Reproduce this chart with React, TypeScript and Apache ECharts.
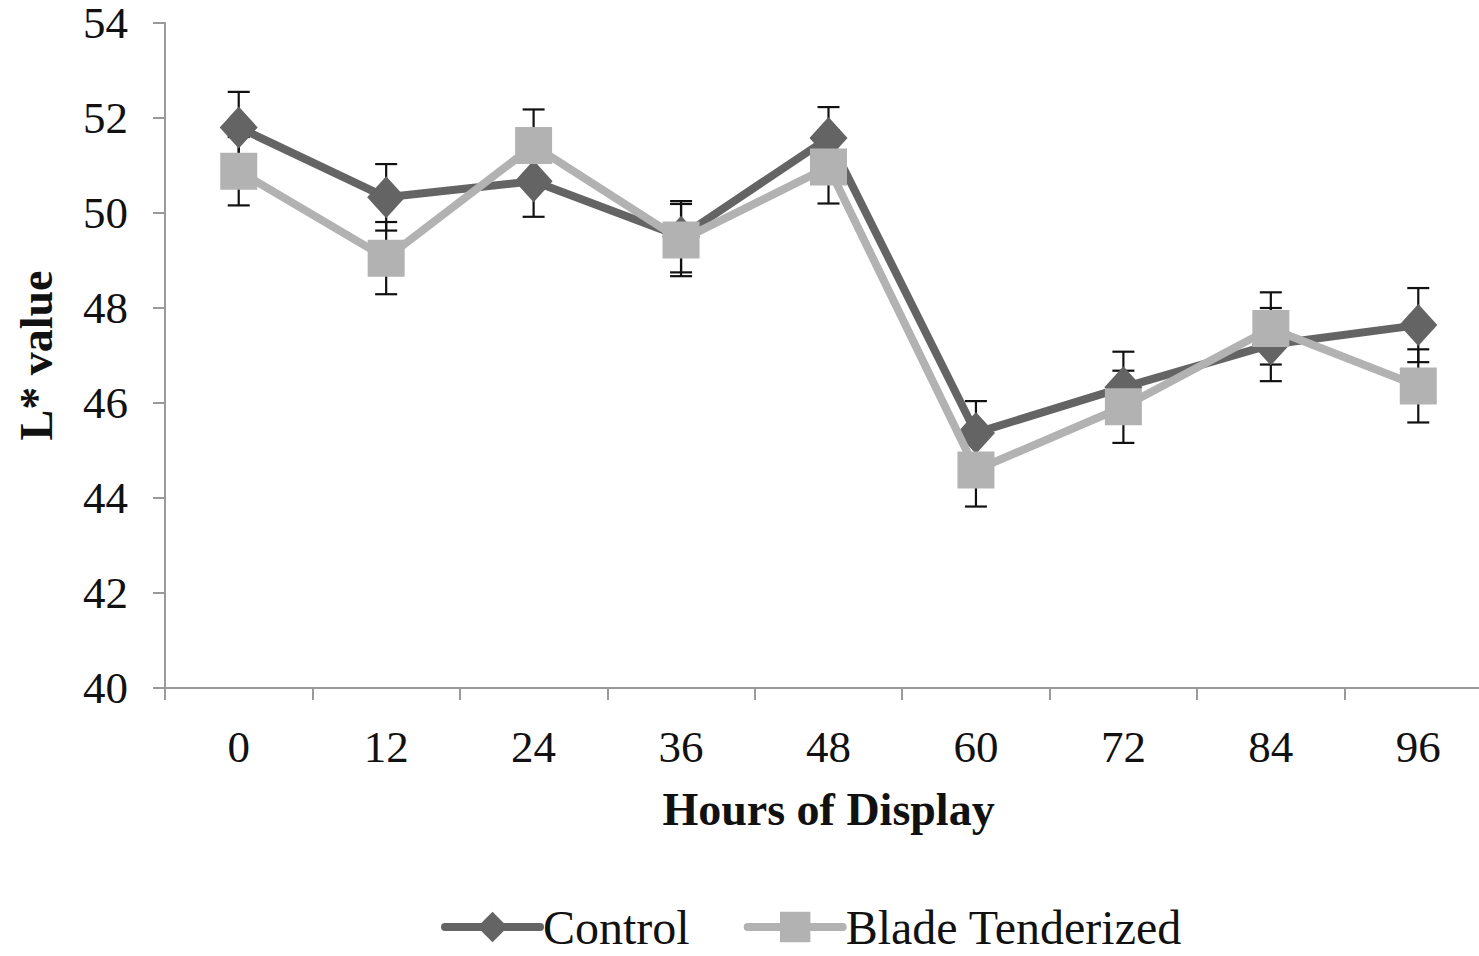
import React, { useEffect, useRef } from "react";
import * as echarts from "echarts";

// Hours of retail display
const hours = ["0", "12", "24", "36", "48", "60", "72", "84", "96"];

// Mean L* values and their standard errors
const controlMean = [51.8, 50.33, 50.67, 49.5, 51.58, 45.37, 46.33, 47.23, 47.64];
const controlErr = [0.75, 0.7, 0.75, 0.75, 0.65, 0.67, 0.75, 0.77, 0.78];
const bladeMean = [50.88, 49.05, 51.42, 49.43, 50.97, 44.59, 45.92, 47.57, 46.36];
const bladeErr = [0.72, 0.76, 0.76, 0.76, 0.77, 0.77, 0.76, 0.76, 0.77];

const yTicks = { min: 40, max: 54, interval: 2 };

const FONT = '"Liberation Serif", "Times New Roman", serif';
const DARK = "#646464";
const LIGHT = "#b2b2b2";

function errorBarSeries(name: string, mean: number[], err: number[]) {
  const data = mean.map((m, i) => [i, m - err[i], m + err[i]]);
  return {
    type: "custom",
    name: name + " error",
    z: 1,
    silent: true,
    data,
    encode: { x: 0, y: [1, 2] },
    renderItem: (params: any, api: any) => {
      const x = api.value(0);
      const lo = api.coord([x, api.value(1)]);
      const hi = api.coord([x, api.value(2)]);
      const half = 11;
      const style = { stroke: "#111", lineWidth: 2.2 };
      return {
        type: "group",
        children: [
          { type: "line", shape: { x1: lo[0], y1: lo[1], x2: hi[0], y2: hi[1] }, style },
          { type: "line", shape: { x1: lo[0] - half, y1: lo[1], x2: lo[0] + half, y2: lo[1] }, style },
          { type: "line", shape: { x1: hi[0] - half, y1: hi[1], x2: hi[0] + half, y2: hi[1] }, style },
        ],
      };
    },
  };
}

export default function App() {
  const ref = useRef<HTMLDivElement>(null);

  useEffect(() => {
    if (!ref.current) return;
    const chart = echarts.init(ref.current, null, { renderer: "svg" });
    chart.setOption({
      animation: false,
      backgroundColor: "#ffffff",
      // the plot area runs a little past the right edge of the visible frame
      grid: { left: 165, right: 0, top: 23, bottom: 268, containLabel: false },
      legend: {
        bottom: 0,
        left: 436,
        itemWidth: 95,
        itemHeight: 38,
        itemGap: 54,
        data: ["Control", "Blade Tenderized"],
        lineStyle: { width: 8, cap: "round" },
        textStyle: { fontFamily: FONT, fontSize: 48, color: "#111", padding: [0, 0, 0, -2] },
      },
      xAxis: {
        type: "category",
        data: hours,
        boundaryGap: true,
        name: "Hours of Display",
        nameLocation: "middle",
        nameGap: 98,
        nameTextStyle: { fontFamily: FONT, fontSize: 46, fontWeight: "bold", color: "#111" },
        axisLine: { lineStyle: { color: "#9a9a9a", width: 2 } },
        axisTick: { show: true, length: 12, alignWithLabel: false, lineStyle: { color: "#9a9a9a", width: 2 } },
        axisLabel: { fontFamily: FONT, fontSize: 45, color: "#111", margin: 36 },
        splitLine: { show: false },
      },
      yAxis: {
        type: "value",
        min: yTicks.min,
        max: yTicks.max,
        interval: yTicks.interval,
        name: "L* value",
        nameLocation: "middle",
        nameGap: 106,
        nameRotate: 90,
        nameTextStyle: { fontFamily: FONT, fontSize: 46, fontWeight: "bold", color: "#111" },
        axisLine: { show: true, lineStyle: { color: "#9a9a9a", width: 2 } },
        axisTick: { show: true, length: 12, lineStyle: { color: "#9a9a9a", width: 2 } },
        axisLabel: { fontFamily: FONT, fontSize: 45, lineHeight: 40, color: "#111", margin: 37 },
        splitLine: { show: false },
      },
      series: [
        errorBarSeries("Control", controlMean, controlErr),
        errorBarSeries("Blade Tenderized", bladeMean, bladeErr),
        {
          name: "Control",
          type: "line",
          z: 3,
          data: controlMean,
          symbol: "diamond",
          symbolSize: [38, 42],
          lineStyle: { color: DARK, width: 8 },
          itemStyle: { color: DARK },
        },
        {
          name: "Blade Tenderized",
          type: "line",
          z: 4,
          data: bladeMean,
          symbol: "rect",
          symbolSize: 37,
          lineStyle: { color: LIGHT, width: 8 },
          itemStyle: { color: LIGHT },
        },
      ],
    });
    return () => chart.dispose();
  }, []);

  return (
    <div
      style={{
        position: "fixed",
        left: 0,
        top: 0,
        width: 1479,
        height: 956,
        overflow: "hidden",
        background: "#fff",
      }}
    >
      <div ref={ref} style={{ width: 1492, height: 956 }} />
    </div>
  );
}
